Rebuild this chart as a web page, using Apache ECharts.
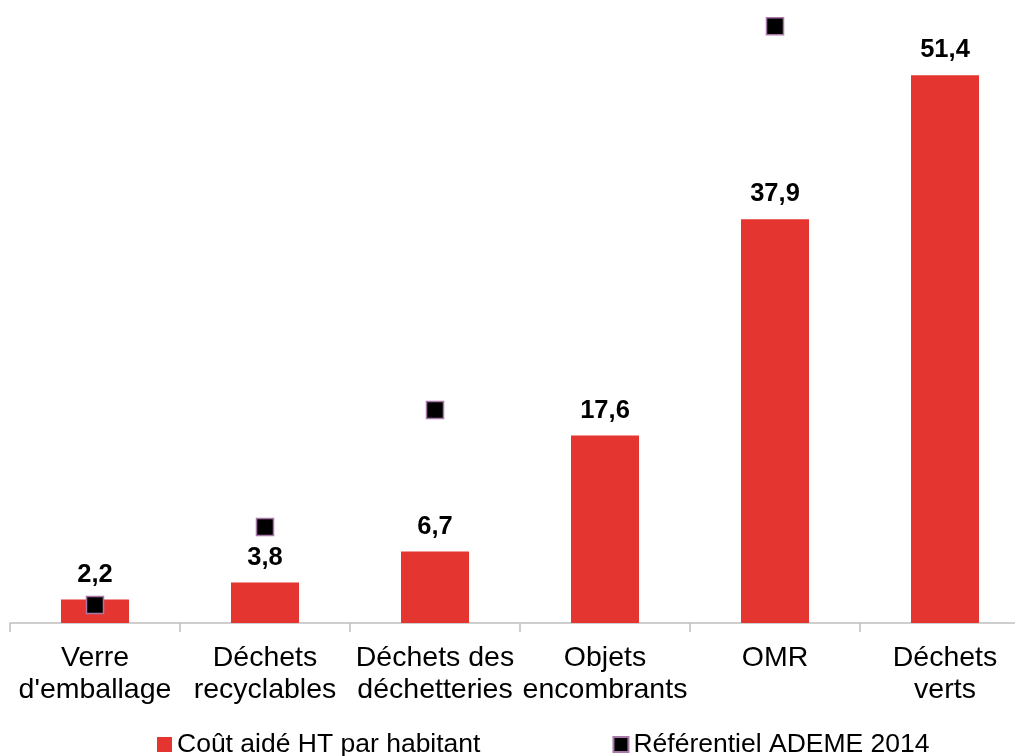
<!DOCTYPE html>
<html>
<head>
<meta charset="utf-8">
<script src="https://cdn.jsdelivr.net/npm/echarts@6/dist/echarts.min.js"></script>
<style>html,body{margin:0;padding:0;background:#fff;}#c{width:1015px;height:756px;}</style>
</head>
<body>
<div id="c"></div>
<script>
const categories = ["Verre\nd'emballage", "Déchets\nrecyclables", "Déchets des\ndéchetteries", "Objets\nencombrants", "OMR", "Déchets\nverts"];
const coutAide = [2.2, 3.8, 6.7, 17.6, 37.9, 51.4];
const referentiel = [1.7, 9.0, 20.0, null, 56.0, null];
const seriesNames = ["Coût aidé HT par habitant", "Référentiel ADEME 2014"];

const FONT = 'Liberation Sans, Arial, sans-serif';
const chart = echarts.init(document.getElementById('c'));
chart.setOption({
  animation: false,
  backgroundColor: '#ffffff',
  textStyle: { fontFamily: FONT },
  grid: { left: 10, right: -15, top: 5, bottom: 133, containLabel: false, outerBoundsMode: 'none' },
  legend: {
    top: 726,
    left: 152,
    itemWidth: 15,
    itemHeight: 15,
    itemGap: 132,
    textStyle: { fontSize: 26.5, color: '#000', fontFamily: FONT },
    data: [
      { name: seriesNames[0], icon: 'rect' },
      { name: seriesNames[1], icon: 'rect' }
    ]
  },
  xAxis: {
    type: 'category',
    data: categories,
    boundaryGap: true,
    axisLine: { lineStyle: { color: '#bfbfbf', width: 1.5 } },
    axisTick: { show: true, length: 9, lineStyle: { color: '#bfbfbf', width: 1.5 } },
    axisLabel: { interval: 0, color: '#000', fontSize: 28.5, lineHeight: 32, margin: 19, fontFamily: FONT }
  },
  yAxis: {
    type: 'value', min: 0, max: 58, show: false,
    splitLine: { show: false }
  },
  series: [
    {
      name: seriesNames[0],
      type: 'bar',
      data: coutAide,
      barWidth: '40%',
      itemStyle: { color: '#e53530' },
      label: {
        show: true, position: 'top', distance: 12,
        fontSize: 25.5, fontWeight: 'bold', color: '#000',
        fontFamily: FONT,
        formatter: p => String(p.value).replace('.', ',')
      },
      z: 2
    },
    {
      name: seriesNames[1],
      type: 'scatter',
      data: referentiel,
      symbol: 'rect',
      symbolSize: 17,
      itemStyle: { color: '#000', opacity: 1, borderColor: '#a878a8', borderWidth: 1.5 },
      z: 5
    }
  ]
});
</script>
</body>
</html>
